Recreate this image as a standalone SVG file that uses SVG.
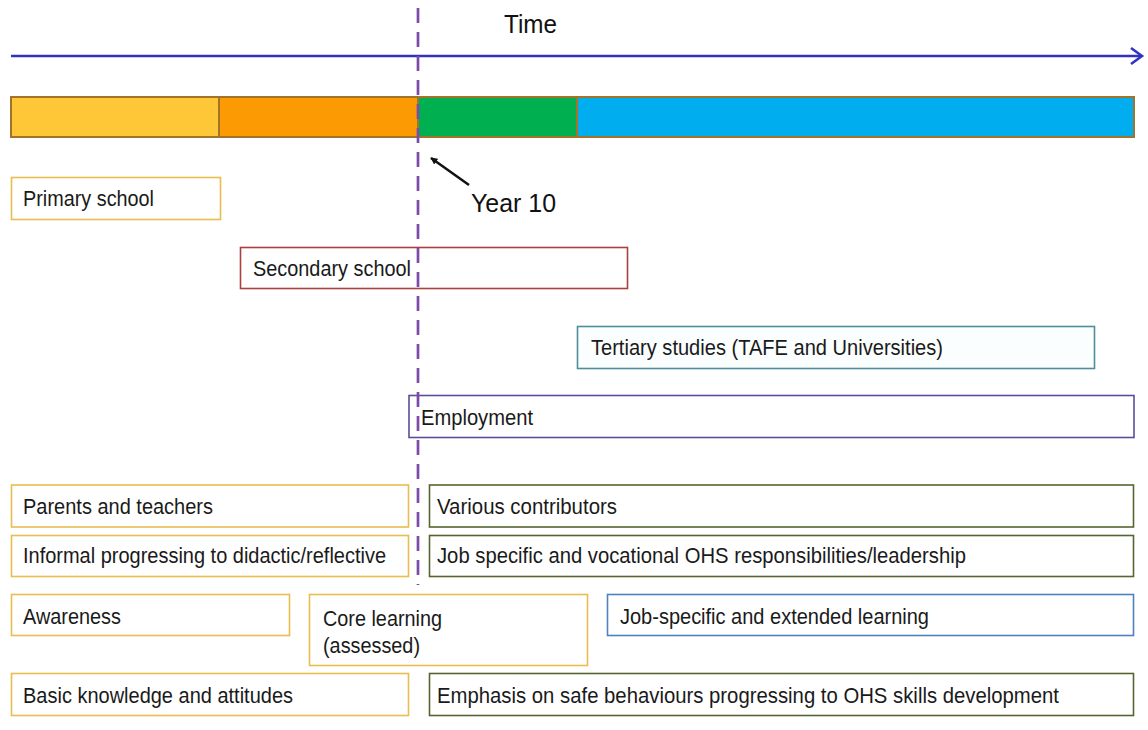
<svg xmlns="http://www.w3.org/2000/svg" width="1148" height="730" viewBox="0 0 1148 730">
<defs>
<style>
.t{font-family:"Liberation Sans",Arial,sans-serif;font-size:22px;fill:#1a1a1a}
.big{font-family:"Liberation Sans",Arial,sans-serif;font-size:26px;fill:#111}
.box{fill:#fff;stroke-width:1.6}
.gold{stroke:#E9BD4E}
.red{stroke:#A9413E}
.teal{stroke:#4E8E99;fill:#FAFEFF}
.purp{stroke:#5A4E99}
.olive{stroke:#56652F}
.blue{stroke:#4F81BD}
.seg{stroke:#A27329;stroke-width:2}
</style>
<marker id="ah" viewBox="0 0 10 10" refX="9" refY="5" markerWidth="7" markerHeight="7" orient="auto-start-reverse" markerUnits="userSpaceOnUse">
<path d="M0,0 L10,5 L0,10 z" fill="#111"/>
</marker>
</defs>
<rect width="1148" height="730" fill="#fff"/>

<g id="timeline">
<line x1="11" y1="56" x2="1141" y2="56" stroke="#3131C2" stroke-width="2.5"/>
<path d="M1131,48 L1142,56 L1131,64" fill="none" stroke="#3131C2" stroke-width="2.5"/>
<text class="big" x="504" y="33" textLength="53" lengthAdjust="spacingAndGlyphs">Time</text>
</g>

<g id="bar">
<rect class="seg" x="11" y="97" width="208" height="40" fill="#FDC738"/>
<rect class="seg" x="219" y="97" width="199" height="40" fill="#FB9A03"/>
<rect class="seg" x="418" y="97" width="159" height="40" fill="#00AF50"/>
<rect class="seg" x="577" y="97" width="557" height="40" fill="#00AEEF"/>
</g>

<g id="primary">
<rect class="box gold" x="11.5" y="177.5" width="209" height="42"/>
<text class="t" x="23" y="206" textLength="131" lengthAdjust="spacingAndGlyphs">Primary school</text>
</g>
<g id="secondary">
<rect class="box red" x="240.5" y="247.5" width="387" height="41"/>
<text class="t" x="253" y="276" textLength="158" lengthAdjust="spacingAndGlyphs">Secondary school</text>
</g>
<g id="tertiary">
<rect class="box teal" x="577.5" y="326.5" width="517" height="42"/>
<text class="t" x="591" y="355" textLength="352" lengthAdjust="spacingAndGlyphs">Tertiary studies (TAFE and Universities)</text>
</g>
<g id="employment">
<rect class="box purp" x="409" y="395.5" width="725" height="42"/>
<text class="t" x="421" y="425" textLength="112" lengthAdjust="spacingAndGlyphs">Employment</text>
</g>
<g id="parents">
<rect class="box gold" x="11.5" y="485" width="397" height="42"/>
<text class="t" x="23" y="514" textLength="190" lengthAdjust="spacingAndGlyphs">Parents and teachers</text>
</g>
<g id="various">
<rect class="box olive" x="429.5" y="485" width="704" height="42"/>
<text class="t" x="437" y="514" textLength="180" lengthAdjust="spacingAndGlyphs">Various contributors</text>
</g>
<g id="informal">
<rect class="box gold" x="11.5" y="535.5" width="397" height="41"/>
<text class="t" x="23" y="563" textLength="363" lengthAdjust="spacingAndGlyphs">Informal progressing to didactic/reflective</text>
</g>
<g id="jobspecific">
<rect class="box olive" x="429.5" y="535.5" width="704" height="41"/>
<text class="t" x="437" y="563" textLength="529" lengthAdjust="spacingAndGlyphs">Job specific and vocational OHS responsibilities/leadership</text>
</g>
<g id="awareness">
<rect class="box gold" x="11.5" y="594.5" width="278" height="41"/>
<text class="t" x="23" y="624" textLength="98" lengthAdjust="spacingAndGlyphs">Awareness</text>
</g>
<g id="core">
<rect class="box gold" x="309.5" y="594.5" width="278" height="71"/>
<text class="t" x="323" y="626" textLength="119" lengthAdjust="spacingAndGlyphs">Core learning</text>
<text class="t" x="323" y="653" textLength="97" lengthAdjust="spacingAndGlyphs">(assessed)</text>
</g>
<g id="extended">
<rect class="box blue" x="607.5" y="594.5" width="526" height="41"/>
<text class="t" x="620" y="624" textLength="309" lengthAdjust="spacingAndGlyphs">Job-specific and extended learning</text>
</g>
<g id="basic">
<rect class="box gold" x="11.5" y="673.5" width="397" height="42"/>
<text class="t" x="23" y="703" textLength="270" lengthAdjust="spacingAndGlyphs">Basic knowledge and attitudes</text>
</g>
<g id="emphasis">
<rect class="box olive" x="429.5" y="673.5" width="704" height="42"/>
<text class="t" x="437" y="703" textLength="622" lengthAdjust="spacingAndGlyphs">Emphasis on safe behaviours progressing to OHS skills development</text>
</g>

<g id="connectors">
<line x1="418" y1="8" x2="418" y2="585" stroke="#7A4BA8" stroke-width="2.7" stroke-dasharray="15,9"/>
<line x1="469" y1="185" x2="431" y2="158" stroke="#111" stroke-width="2.5" marker-end="url(#ah)"/>
</g>
<g id="year10">
<text class="big" x="471" y="212" textLength="85" lengthAdjust="spacingAndGlyphs">Year 10</text>
</g>
</svg>
